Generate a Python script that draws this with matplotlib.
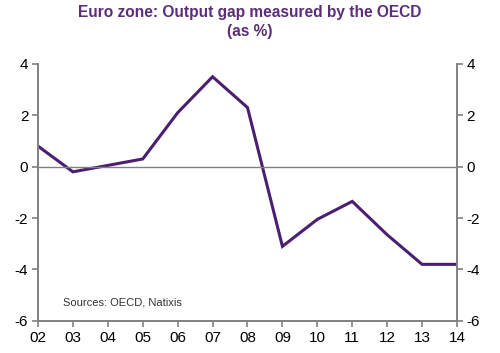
import matplotlib
matplotlib.use("Agg")
import matplotlib.pyplot as plt

# Dados
anos = ['02', '03', '04', '05', '06', '07', '08', '09', '10', '11', '12', '13', '14']
output_gap = [0.8, -0.2, 0.05, 0.3, 2.1, 3.5, 2.3, -3.1, -2.05, -1.35, -2.65, -3.8, -3.8]
yticks = [4, 2, 0, -2, -4, -6]

roxo = '#4b1f6f'
cinza = '#808080'

plt.rcParams['font.family'] = ['Liberation Sans', 'DejaVu Sans']

fig = plt.figure(figsize=(5, 3.53), dpi=100)
ax = fig.add_axes([0.076, 0.091, 0.838, 0.728])

x = list(range(len(anos)))
ax.plot(x, output_gap, color=roxo, linewidth=2.2, solid_joinstyle='miter')
ax.axhline(0, color=cinza, linewidth=1)

ax.set_xlim(0, len(anos) - 1)
ax.set_ylim(-6, 4)
ax.set_xticks(x)
ax.set_xticklabels(anos, fontsize=11)
ax.set_yticks(yticks)
ax.set_yticklabels([str(v) for v in yticks], fontsize=11)

ax2 = ax.twinx()
ax2.set_ylim(-6, 4)
ax2.set_yticks(yticks)
ax2.set_yticklabels([str(v) for v in yticks], fontsize=11)

for a in (ax, ax2):
    a.spines['top'].set_visible(False)
    for s in ('left', 'right', 'bottom'):
        a.spines[s].set_color(cinza)
        a.spines[s].set_linewidth(1.2)
    a.tick_params(colors=cinza, labelcolor='black', length=4, width=1.2, pad=3)

ax.text(0.06, 0.06, 'Sources: OECD, Natixis', transform=ax.transAxes,
        fontsize=8, color='#333333')

fig.text(0.5, 0.985, 'Euro zone: Output gap measured by the OECD\n(as %)',
         ha='center', va='top', fontsize=11.2, fontweight='bold',
         color='#5b2d7a', linespacing=1.35)

fig.savefig('out.png', dpi=100)
